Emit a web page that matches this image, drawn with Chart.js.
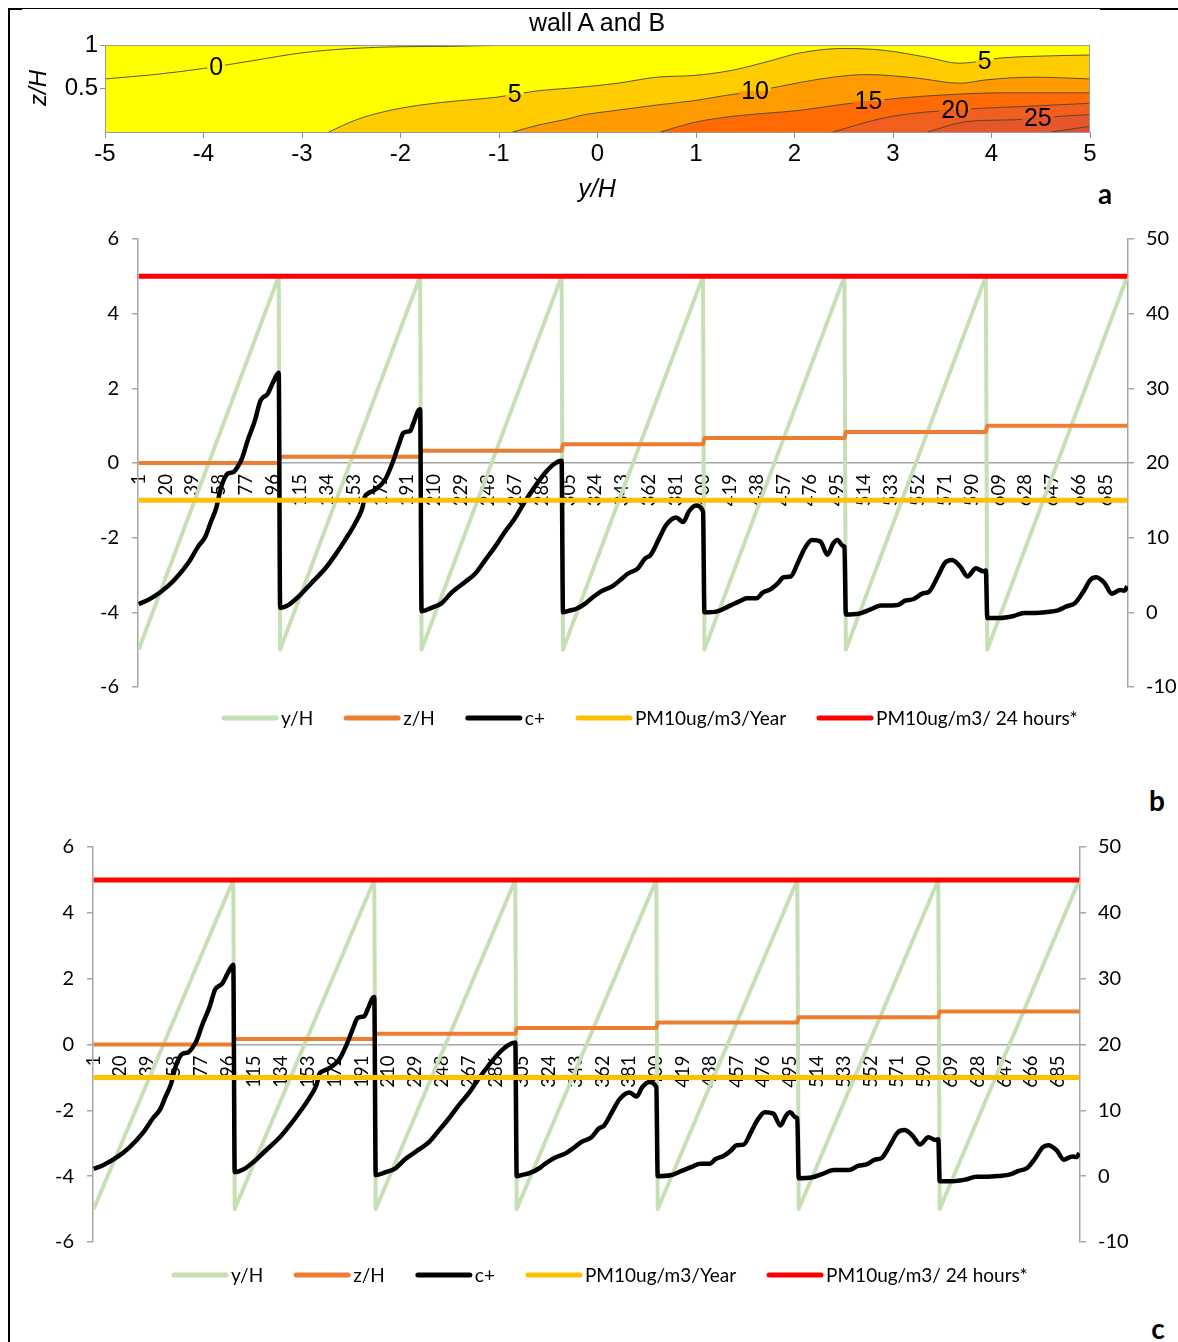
<!DOCTYPE html>
<html>
<head>
<meta charset="utf-8">
<script src="https://cdn.jsdelivr.net/npm/chart.js@4.4.1/dist/chart.umd.min.js"></script>
<style>
  html, body { margin: 0; padding: 0; background: #fff; overflow: hidden; }
  #fig { position: relative; width: 1178px; height: 1342px; background: #fff; }
  #fig canvas { position: absolute; left: 0; }
  .txt { position: absolute; white-space: nowrap; color: #000; line-height: 1; }
  .rule { position: absolute; background: #000; }
</style>
</head>
<body>
<div id="fig">
  <canvas id="wallChart" width="1178" height="210" style="top:0px"></canvas>
  <canvas id="seriesB" width="1178" height="540" style="top:214px"></canvas>
  <canvas id="seriesC" width="1178" height="478" style="top:822px"></canvas>

  <div class="rule" style="left:8px;top:8px;width:2px;height:1334px"></div>
  <div class="rule" style="left:8px;top:8px;width:1170px;height:1px"></div>
  <div class="rule" style="left:8px;top:8px;width:14px;height:2px"></div>
  <div class="rule" style="left:1100px;top:8px;width:78px;height:2px"></div>

  <div class="txt" style="left:597px;top:22px;transform:translate(-50%,-50%);font:25px 'Liberation Sans', Arial, sans-serif">wall A and B</div>
  <div class="txt" style="left:597px;top:188px;transform:translate(-50%,-50%);font:italic 25px 'Liberation Sans', Arial, sans-serif">y/H</div>
  <div class="txt" style="left:38px;top:88px;transform:translate(-50%,-50%) rotate(-90deg);font:italic 24px 'Liberation Sans', Arial, sans-serif">z/H</div>
  <div class="txt" style="left:1105px;top:193px;transform:translate(-50%,-50%);font:bold 28px Lato, sans-serif">a</div>
  <div class="txt" style="left:1157px;top:800px;transform:translate(-50%,-50%);font:bold 28px Lato, sans-serif">b</div>
  <div class="txt" style="left:1158px;top:1328px;transform:translate(-50%,-50%);font:bold 28px Lato, sans-serif">c</div>
</div>

<script>
// ---------- Panel a: iso-lines of c+ over wall A and B (x = y/H, y = z/H) ----------
const iso0  = [[-5,0.61],[-4.5,0.66],[-4,0.73],[-3.5,0.82],[-3,0.91],[-2.5,0.96],[-2,0.98],[-1.5,0.985],[-1,0.995]];
const iso5  = [[-2.73,0],[-2.45,0.14],[-2.18,0.23],[-1.8,0.31],[-1.4,0.36],[-1.02,0.40],[-0.63,0.47],[-0.17,0.515],[0.2,0.56],[0.6,0.63],[0.98,0.65],[1.37,0.71],[1.76,0.82],[2.06,0.91],[2.5,0.96],[2.9,0.94],[3.34,0.86],[3.68,0.79],[4.09,0.85],[4.43,0.87],[5,0.885]];
const iso10 = [[-0.86,0],[-0.6,0.08],[-0.3,0.15],[-0.17,0.19],[0.2,0.25],[0.6,0.31],[0.98,0.36],[1.3,0.42],[1.6,0.47],[2.06,0.57],[2.39,0.63],[2.73,0.66],[3.24,0.62],[3.68,0.56],[3.95,0.6],[4.43,0.63],[5,0.61]];
const iso15 = [[0.64,0],[0.98,0.11],[1.37,0.18],[2.06,0.25],[2.5,0.32],[2.75,0.35],[3.07,0.39],[3.58,0.43],[4.09,0.45],[5,0.45]];
const iso20 = [[2.39,0],[2.9,0.16],[3.34,0.23],[3.63,0.25],[3.85,0.27],[4.26,0.29],[5,0.33]];
const iso25 = [[3.35,0],[3.75,0.12],[4.22,0.14],[4.47,0.155],[4.69,0.18],[5,0.2]];
const iso30 = [[4.61,0],[5,0.065]];

const isoLevels = [5, 10, 15, 20, 25, 30];
const isoCurves = [iso5, iso10, iso15, iso20, iso25, iso30];
const bandFill  = ['#FFFF00', '#FFCC00', '#FF9B00', '#FF6A05', '#F05F1E', '#E6562B', '#DE4E30'];

// label text, where it sits on its line, band index above / below the line
const isoLabels = [
  { text: '0',  at: [-3.87, 0.75],  above: 0, below: 0 },
  { text: '5',  at: [-0.84, 0.43],  above: 0, below: 1 },
  { text: '5',  at: [3.93, 0.82],   above: 0, below: 1 },
  { text: '10', at: [1.6, 0.47],    above: 1, below: 2 },
  { text: '15', at: [2.75, 0.35],   above: 2, below: 3 },
  { text: '20', at: [3.63, 0.25],   above: 3, below: 4 },
  { text: '25', at: [4.47, 0.155],  above: 4, below: 5 }
];

const asXY = arr => arr.map(p => ({ x: p[0], y: p[1] }));
const isoLine = 'rgba(75,68,45,0.9)';

const wallDatasets = [
  { label: 'bg', data: asXY([[-5, 1], [5, 1]]), fill: 'start', backgroundColor: bandFill[0], borderWidth: 0, order: 20 }
];
isoCurves.forEach((curve, i) => {
  wallDatasets.push({
    label: String(isoLevels[i]),
    data: asXY(curve),
    fill: 'start',
    backgroundColor: bandFill[i + 1],
    borderColor: isoLine,
    borderWidth: 1,
    cubicInterpolationMode: 'monotone',
    order: 10 - i
  });
});
wallDatasets.push({ label: '0', data: asXY(iso0), fill: false, borderColor: isoLine, borderWidth: 1, cubicInterpolationMode: 'monotone', order: 0 });

const isoLabelPlugin = {
  id: 'isoLabels',
  afterDatasetsDraw(chart) {
    const { ctx, scales: { x, y }, chartArea } = chart;
    ctx.save();
    ctx.font = "25px 'Liberation Sans', Arial, sans-serif";
    ctx.textAlign = 'center';
    ctx.textBaseline = 'middle';
    isoLabels.forEach(l => {
      const px = x.getPixelForValue(l.at[0]);
      const py = y.getPixelForValue(l.at[1]);
      const w = ctx.measureText(l.text).width + 4;
      const h = 20;
      ctx.fillStyle = bandFill[l.above];
      ctx.fillRect(px - w / 2, py - h / 2, w, h / 2);
      ctx.fillStyle = bandFill[l.below];
      ctx.fillRect(px - w / 2, py, w, h / 2);
      ctx.fillStyle = '#000';
      ctx.fillText(l.text, px, py + 1);
    });
    // plot frame
    ctx.strokeStyle = '#9a9a9a';
    ctx.lineWidth = 1;
    ctx.strokeRect(chartArea.left + 0.5, chartArea.top + 0.5, chartArea.right - chartArea.left - 1, chartArea.bottom - chartArea.top);
    ctx.restore();
  }
};

const wallFont = { family: "'Liberation Sans', Arial, sans-serif", size: 24 };
new Chart(document.getElementById('wallChart'), {
  type: 'line',
  data: { datasets: wallDatasets },
  options: {
    responsive: false, animation: false, events: [],
    layout: { padding: { top: 45, right: 88, bottom: 0, left: 0 } },
    elements: { point: { radius: 0 } },
    plugins: { legend: { display: false }, tooltip: { enabled: false } },
    scales: {
      x: {
        type: 'linear', min: -5, max: 5,
        ticks: { stepSize: 1, font: wallFont, color: '#000', padding: 2, callback: v => String(v) },
        grid: { drawOnChartArea: false, tickLength: 6, color: '#8c8c8c' },
        border: { color: '#8c8c8c' },
        afterFit: s => { s.height = 78; }
      },
      y: {
        type: 'linear', min: 0, max: 1,
        afterBuildTicks: s => { s.ticks = [{ value: 0.5 }, { value: 1 }]; },
        ticks: { font: wallFont, color: '#000', padding: 2, callback: v => String(v) },
        grid: { drawOnChartArea: false, tickLength: 5, color: '#8c8c8c' },
        border: { color: '#8c8c8c' },
        afterFit: s => { s.width = 105; }
      }
    }
  },
  plugins: [isoLabelPlugin]
});

// ---------- Panels b and c: position along the wall and c+ per grid point ----------
const catTicks = [1,20,39,58,77,96,115,134,153,172,191,210,229,248,267,286,305,324,343,362,381,400,419,438,457,476,495,514,533,552,571,590,609,628,647,666,685];

const yhCat = [1,100,101,200,201,300,301,400,401,500,501,600,601,700];
const yhVal = [-5,5,-5,5,-5,5,-5,5,-5,5,-5,5,-5,5];

const zhCat = [1,100,101,200,201,300,301,400,401,500,501,600,601,700];
const zhVal = [0,0,0.17,0.17,0.33,0.33,0.5,0.5,0.67,0.67,0.83,0.83,1,1];

const cCat = [
  1,8,17,26,36,43,48,52,56,59,62,64,68,71,74,78,83,87,89,92,96,100,
  101,107,114,123,133,140,147,154,159,161,163,168,175,180,185,188,191,193,195,199,200,
  201,208,215,222,232,239,246,253,260,267,274,281,288,295,300,
  301,305,310,317,320,328,336,342,347,354,359,363,369,374,381,386,390,395,400,
  401,410,418,426,431,438,442,448,453,457,462,467,472,477,483,488,492,495,499,500,
  501,510,518,526,534,538,543,549,555,560,566,571,576,582,587,593,598,600,
  601,610,619,627,635,643,651,657,663,669,674,678,684,689,695,698,700
];
const cVal = [
  1.1,1.7,2.8,4.3,6.6,8.8,10.1,12.1,14.1,16.6,18.1,18.6,18.8,19.5,20.6,23.0,25.6,28.3,28.8,29.2,30.8,32.1,
  0.6,1.0,2.1,3.9,5.9,7.7,9.7,11.9,13.9,15.5,15.9,16.4,17.7,19.8,22.5,24.0,24.2,24.3,25.2,27.1,27.2,
  0.15,0.6,1.2,2.6,4.1,5.2,7.0,8.8,10.8,12.6,14.8,16.8,18.6,19.9,20.3,
  0.0,0.2,0.45,1.2,1.7,2.8,3.5,4.4,5.2,5.9,7.2,7.7,9.9,11.7,12.7,12.1,13.5,14.3,13.5,
  0.0,0.13,0.8,1.5,1.9,1.9,2.6,3.1,3.9,4.7,4.8,6.6,8.6,9.7,9.5,7.7,9.2,9.7,8.9,8.8,
  -0.3,-0.2,0.36,0.93,0.93,1.0,1.56,1.78,2.5,2.8,4.8,6.6,7.0,6.1,4.8,5.9,5.5,5.6,
  -0.76,-0.76,-0.53,-0.09,-0.09,0.04,0.27,0.8,1.24,2.8,4.36,4.7,3.9,2.5,3.0,2.9,3.5
];

const limCat = [1, 700];
const pm10Year = [15, 15];
const pm10Day = [45, 45];

const toPts = (xs, ys) => xs.map((x, i) => ({ x: x, y: ys[i] }));

const lineLegend = {
  id: 'lineLegend',
  afterDraw(chart, args, opts) {
    const ctx = chart.ctx;
    ctx.save();
    ctx.font = opts.font;
    ctx.textBaseline = 'middle';
    ctx.textAlign = 'left';
    let x = opts.x;
    chart.data.datasets.forEach(ds => {
      ctx.strokeStyle = ds.borderColor;
      ctx.lineWidth = 5;
      ctx.lineCap = 'round';
      ctx.beginPath();
      ctx.moveTo(x + 2, opts.y);
      ctx.lineTo(x + opts.sample - 2, opts.y);
      ctx.stroke();
      x += opts.sample + opts.gap;
      ctx.fillStyle = '#000';
      ctx.fillText(ds.label, x, opts.y + 1);
      x += ctx.measureText(ds.label).width + opts.spacing;
    });
    ctx.restore();
  }
};

function seriesChart(id, box) {
  const tickFont = { family: 'Lato, sans-serif', size: 20 };
  const catFont = { family: 'Lato, sans-serif', size: 18.5 };
  const axisGray = '#a6a6a6';
  return new Chart(document.getElementById(id), {
    type: 'line',
    data: {
      datasets: [
        { label: 'y/H', data: toPts(yhCat, yhVal), yAxisID: 'y', borderColor: '#C5E0B4', borderWidth: 4, order: 4 },
        { label: 'z/H', data: toPts(zhCat, zhVal), yAxisID: 'y', borderColor: '#ED7D31', borderWidth: 4, order: 3 },
        { label: 'c+', data: toPts(cCat, cVal), yAxisID: 'y1', borderColor: '#000000', borderWidth: 4.5, cubicInterpolationMode: 'monotone', order: 2 },
        { label: 'PM10ug/m3/Year', data: toPts(limCat, pm10Year), yAxisID: 'y1', borderColor: '#FFC000', borderWidth: 5, order: 1 },
        { label: 'PM10ug/m3/ 24 hours*', data: toPts(limCat, pm10Day), yAxisID: 'y1', borderColor: '#FF0000', borderWidth: 5, order: 0 }
      ]
    },
    options: {
      responsive: false, animation: false, events: [],
      layout: { padding: { top: box.top, bottom: box.height - box.bottom, left: 0, right: 0 } },
      elements: { point: { radius: 0 }, line: { borderJoinStyle: 'round' } },
      plugins: {
        legend: { display: false }, tooltip: { enabled: false },
        lineLegend: { x: box.legendX, y: box.legendY, font: '19px Lato, sans-serif', sample: 56, gap: 3, spacing: 31 }
      },
      scales: {
        x: {
          type: 'linear', position: { y: 0 }, min: 0.5, max: 700.5,
          afterBuildTicks: s => { s.ticks = catTicks.map(v => ({ value: v })); },
          ticks: { autoSkip: false, minRotation: 90, maxRotation: 90, padding: 11, font: catFont, color: '#000', callback: v => String(v) },
          grid: { display: false, drawTicks: false },
          border: { display: true, color: axisGray, width: 1.5 }
        },
        y: {
          type: 'linear', position: 'left', min: -6, max: 6,
          ticks: { stepSize: 2, font: tickFont, color: '#000', padding: 13 },
          grid: { drawOnChartArea: false, tickLength: 6, color: axisGray, lineWidth: 1.5 },
          border: { color: axisGray, width: 1.5 },
          afterFit: s => { s.width = box.left; }
        },
        y1: {
          type: 'linear', position: 'right', min: -10, max: 50,
          ticks: { stepSize: 10, font: tickFont, color: '#000', padding: 12 },
          grid: { drawOnChartArea: false, tickLength: 6, color: axisGray, lineWidth: 1.5 },
          border: { color: axisGray, width: 1.5 },
          afterFit: s => { s.width = 1178 - box.right; }
        }
      }
    },
    plugins: [lineLegend]
  });
}

seriesChart('seriesB', { left: 138, right: 1128, top: 24, bottom: 473, height: 540, legendX: 222, legendY: 504 });
seriesChart('seriesC', { left: 93, right: 1080, top: 24, bottom: 420, height: 478, legendX: 172, legendY: 453 });
</script>
</body>
</html>
